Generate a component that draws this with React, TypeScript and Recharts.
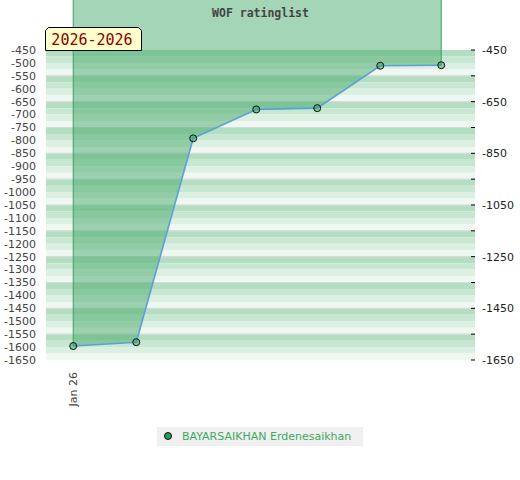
import React from 'react';
import { ComposedChart, Area, Line, XAxis, YAxis, ReferenceArea, ReferenceLine } from 'recharts';

// ---- data ----
const months = ['Jan 26', 'Feb 26', 'Mar 26', 'Apr 26', 'May 26', 'Jun 26', 'Jul 26'];
const days = [0, 31, 59, 90, 120, 151, 181];
const ratings = [-1596, -1581, -792, -680, -675, -511, -509];
const xTicks = [0];
const leftTicks = [
  -450, -500, -550, -600, -650, -700, -750, -800, -850, -900, -950, -1000, -1050,
  -1100, -1150, -1200, -1250, -1300, -1350, -1400, -1450, -1500, -1550, -1600, -1650,
];
const rightTicks = [-450, -550, -650, -750, -850, -950, -1050, -1150, -1250, -1350, -1450, -1550, -1650];
const rightLabels = [-450, -650, -850, -1050, -1250, -1450, -1650];
const bandLines = [-550, -650, -750, -850, -950, -1050, -1150, -1250, -1350, -1450, -1550];
const stripeColors = ['#b4dec2', '#c7e7d2', '#dbefe2', '#eff7f1'];

const Y_DOMAIN: [number, number] = [-1650, -450];
const X_DOMAIN: [number, number] = [-13.4, 197.6];
const AREA_BASE = -200;
const STRIPE = 25;

const data = days.map((d, i) => ({ day: d, month: months[i], rating: ratings[i] }));

const bands: { hi: number; lo: number; color: string }[] = [];
for (let hi = Y_DOMAIN[1], k = 0; hi > Y_DOMAIN[0]; hi -= STRIPE, k++) {
  bands.push({ hi, lo: hi - STRIPE, color: stripeColors[k % stripeColors.length] });
}

const FONT = '"DejaVu Sans", sans-serif';
const MONO = '"DejaVu Sans Mono", monospace';

const RightTick = (props: any) => {
  const { x, y, payload } = props;
  const labeled = rightLabels.includes(payload.value);
  return (
    <g>
      <line x1={x - 4} x2={x} y1={y} y2={y} stroke="#000" strokeWidth={1} />
      {labeled && (
        <text x={x + 7} y={y} dy="0.355em" textAnchor="start" fontSize={11} fontFamily={FONT} fill="#222">
          {payload.value}
        </text>
      )}
    </g>
  );
};

const XTick = (props: any) => {
  const { x, y, payload } = props;
  const idx = days.indexOf(payload.value);
  return (
    <text
      x={x}
      y={y}
      dy="0.35em"
      transform={`rotate(-90 ${x} ${y})`}
      textAnchor="end"
      fontSize={11}
      fontFamily={FONT}
      fill="#444"
    >
      {months[idx >= 0 ? idx : 0]}
    </text>
  );
};

export default function App() {
  return (
    <div style={{ position: 'absolute', left: 0, top: 0, width: 520, height: 480, background: '#fff' }}>
      <ComposedChart width={520} height={480} data={data} margin={{ top: 50, right: 0, bottom: 70, left: 0 }}>
        <XAxis
          dataKey="day"
          type="number"
          domain={X_DOMAIN}
          ticks={xTicks}
          interval={0}
          tick={<XTick />}
          tickLine={false}
          axisLine={false}
          tickSize={0}
          tickMargin={12}
          height={50}
        />
        <YAxis
          yAxisId="left"
          orientation="left"
          type="number"
          domain={Y_DOMAIN}
          ticks={leftTicks}
          interval={0}
          width={46}
          tickLine={false}
          axisLine={false}
          tickSize={0}
          tickMargin={10}
          tick={{ fontSize: 11, fontFamily: FONT, fill: '#444' }}
        />
        <YAxis
          yAxisId="right"
          orientation="right"
          type="number"
          domain={Y_DOMAIN}
          ticks={rightTicks}
          interval={0}
          width={45}
          tickLine={false}
          axisLine={false}
          tickSize={0}
          tickMargin={0}
          tick={<RightTick />}
        />
        {bands.map((b) => (
          <ReferenceArea
            key={`band${b.hi}`}
            yAxisId="left"
            y1={b.lo}
            y2={b.hi}
            fill={b.color}
            fillOpacity={1}
            stroke="none"
            zIndex={-60}
          />
        ))}
        {bandLines.map((v) => (
          <ReferenceLine key={`bl${v}`} yAxisId="left" y={v} stroke="#d9d9d9" strokeWidth={1.2} zIndex={-50} />
        ))}
        <Area
          yAxisId="left"
          type="linear"
          dataKey="rating"
          baseValue={AREA_BASE}
          fill="#3ba462"
          fillOpacity={0.46}
          stroke="#5ba0d6"
          strokeWidth={1.6}
          dot={{ r: 3.5, fill: '#2e9a57', stroke: '#111', strokeWidth: 1 }}
          activeDot={false}
          isAnimationActive={false}
        />
        <Line
          yAxisId="right"
          type="linear"
          dataKey="rating"
          stroke="none"
          dot={false}
          activeDot={false}
          legendType="none"
          isAnimationActive={false}
        />
        <ReferenceArea yAxisId="left" fill="none" fillOpacity={0} stroke="#d4d4d4" strokeWidth={1} zIndex={150} />
        <ReferenceLine
          yAxisId="left"
          segment={[
            { x: days[0], y: ratings[0] },
            { x: days[0], y: AREA_BASE },
          ]}
          stroke="#3f9f60"
          strokeWidth={1}
          ifOverflow="visible"
          zIndex={160}
        />
        <ReferenceLine
          yAxisId="left"
          segment={[
            { x: days[days.length - 1], y: ratings[ratings.length - 1] },
            { x: days[days.length - 1], y: AREA_BASE },
          ]}
          stroke="#3f9f60"
          strokeWidth={1}
          ifOverflow="visible"
          zIndex={160}
        />
      </ComposedChart>
      <svg
        width={520}
        height={60}
        style={{ position: 'absolute', left: 0, top: 0, pointerEvents: 'none' }}
      >
        <text x={260.5} y={16.5} textAnchor="middle" fontSize={11.5} fontWeight="bold" fontFamily={MONO} fill="#444">
          WOF ratinglist
        </text>
        <polygon
          points="45.5,50.5 45.5,30.5 48.5,27.5 138.5,27.5 141.5,30.5 141.5,50.5"
          fill="#ffffcc"
          stroke="#000"
          strokeWidth={1}
        />
        <text x={92} y={45} textAnchor="middle" fontSize={15} fontFamily={MONO} fill="#8b0000">
          2026-2026
        </text>
      </svg>
      <div
        style={{
          position: 'absolute',
          left: 157,
          top: 427,
          width: 206,
          height: 19,
          background: '#f0f0f0',
          display: 'flex',
          alignItems: 'center',
          fontFamily: FONT,
          fontSize: 11,
          color: '#3caa5f',
          whiteSpace: 'nowrap',
        }}
      >
        <svg width={22} height={19} style={{ flex: 'none' }}>
          <circle cx={11} cy={9} r={3.5} fill="#2e9a57" stroke="#111" strokeWidth={1} />
        </svg>
        <span style={{ marginLeft: 3 }}>BAYARSAIKHAN Erdenesaikhan</span>
      </div>
    </div>
  );
}
